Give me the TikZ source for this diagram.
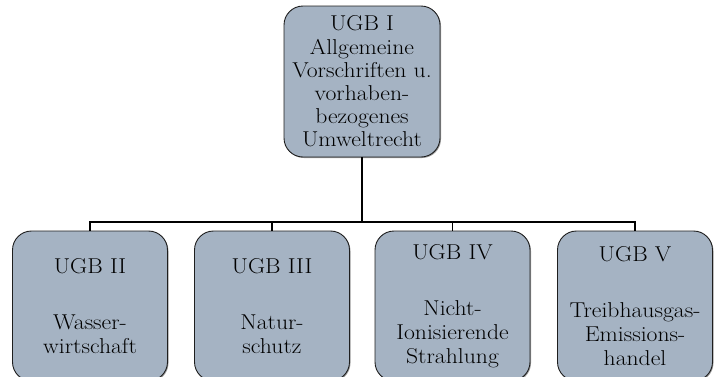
\documentclass[tikz,border=0pt]{standalone}
\usepackage{fontspec}
\setmainfont{Latin Modern Roman}[FakeStretch=1.1]
\usetikzlibrary{shadows}
\definecolor{boxfill}{RGB}{165,179,195}
\definecolor{boxline}{RGB}{30,30,30}
\tikzset{
  ugb/.style={draw=boxline, line width=0.9pt, fill=boxfill, rounded corners=19pt,
    align=center, inner sep=0pt, minimum width=155pt, text width=154pt,
    font=\fontsize{21.5}{24}\selectfont,
    drop shadow={shadow xshift=1pt, shadow yshift=-1pt, fill=black!55, opacity=0.7}},
  topbox/.style={font=\fontsize{21.5}{23.2}\selectfont, minimum width=156pt, minimum height=151pt},
  conn/.style={line width=1.8pt, draw=black}
}
\begin{document}
\begin{tikzpicture}[x=1pt, y=-1pt]
\useasboundingbox (0,0) rectangle (717,376);
\node[ugb, topbox] (top) at (362,81.5)
  {UGB I\\Allgemeine\\Vorschriften u.\\vorhaben-\\bezogenes\\Umweltrecht};
\node[ugb, minimum height=150pt] (b1) at (90,306) {UGB II\\[32pt]Wasser-\\wirtschaft};
\node[ugb, minimum height=150pt] (b2) at (272,306) {UGB III\\[32pt]Natur-\\schutz};
\node[ugb, minimum height=150pt] (b3) at (452.5,306) {UGB IV\\[32pt]Nicht-\\Ionisierende\\Strahlung};
\node[ugb, minimum height=150pt] (b4) at (635,306) {UGB V\\[32pt]Treibhausgas-\\Emissions-\\handel};
\coordinate (bus) at (0,222);
\draw[conn] (top.south) -- (top.south |- bus);
\draw[conn] (b1.north) -- (b1.north |- bus) -- (b4.north |- bus) -- (b4.north);
\draw[conn] (b2.north) -- (b2.north |- bus);
\draw[conn] (b3.north) -- (b3.north |- bus);
\end{tikzpicture}
\end{document}
